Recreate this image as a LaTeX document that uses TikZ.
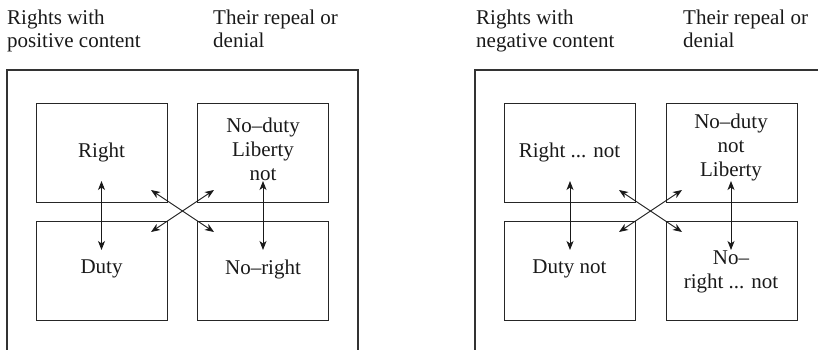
\documentclass[tikz,border=0pt]{standalone}
\usepackage{fontspec}
\setmainfont{Liberation Serif}
\usetikzlibrary{arrows.meta}
\tikzset{
  frame/.style={draw=black!80, line width=1.2pt},
  cell/.style={draw=black!85, line width=0.9pt, minimum width=131pt, minimum height=99pt, anchor=north west, inner sep=0pt, align=center, text=black!90},
  head/.style={anchor=base west, inner sep=0pt, align=left, font=\fontsize{21}{23}\selectfont, text=black!90},
  label/.style={inner sep=0pt, align=center, font=\fontsize{21}{24}\selectfont, text=black!90},
  rel/.style={{Stealth[length=9pt,width=7pt,inset=2.5pt]}-{Stealth[length=9pt,width=7pt,inset=2.5pt]}, line width=0.9pt, draw=black!90}
}
\begin{document}
\begin{tikzpicture}[x=1pt,y=-1pt]
\useasboundingbox (0,0) rectangle (818,350);
% ---------- left panel ----------
\node[head] (hl1) at (7,48) {Rights with\\positive content};
\node[head] (hl2) at (213,48) {Their repeal or\\denial};
\draw[frame] (7,352) -- (7,70) -- (358,70) -- (358,352);
\node[cell] (a1) at (36,103) {};
\node[cell] (a2) at (197,103) {};
\node[cell] (a3) at (36,221) {};
\node[cell] (a4) at (197,221) {};
\node[label] (ta1) at (101.5,152) {Right};
\node[label] (ta2) at (263,149) {No–duty\\Liberty\\not};
\node[label] (ta3) at (101.5,269) {Duty};
\node[label] (ta4) at (263,269) {No–right};
\coordinate (p1) at (101.5,181); \coordinate (p2) at (101.5,250);
\coordinate (p3) at (263,181);   \coordinate (p4) at (263,250);
\coordinate (p5) at (151,190);   \coordinate (p6) at (214,232);
\coordinate (p7) at (214,190);   \coordinate (p8) at (151,232);
\draw[rel] (p1) -- (p2);
\draw[rel] (p3) -- (p4);
\draw[rel] (p5) -- (p6);
\draw[rel] (p7) -- (p8);
% ---------- right panel ----------
\node[head] (hr1) at (476,48) {Rights with\\negative content};
\node[head] (hr2) at (683,48) {Their repeal or\\denial};
\draw[frame] (475,352) -- (475,70) -- (820,70);
\node[cell] (b1) at (504,103) {};
\node[cell] (b2) at (665.5,103) {};
\node[cell] (b3) at (504,221) {};
\node[cell] (b4) at (665.5,221) {};
\node[label] (tb1) at (569.5,152) {Right ... not};
\node[label] (tb2) at (731,147) {No–duty\\not\\Liberty};
\node[label] (tb3) at (569.5,269) {Duty not};
\node[label] (tb4) at (731,272) {No–\\right ... not};
\coordinate (q1) at (570,181); \coordinate (q2) at (570,250);
\coordinate (q3) at (731,181); \coordinate (q4) at (731,250);
\coordinate (q5) at (619,190); \coordinate (q6) at (682,232);
\coordinate (q7) at (682,190); \coordinate (q8) at (619,232);
\draw[rel] (q1) -- (q2);
\draw[rel] (q3) -- (q4);
\draw[rel] (q5) -- (q6);
\draw[rel] (q7) -- (q8);
\end{tikzpicture}
\end{document}
